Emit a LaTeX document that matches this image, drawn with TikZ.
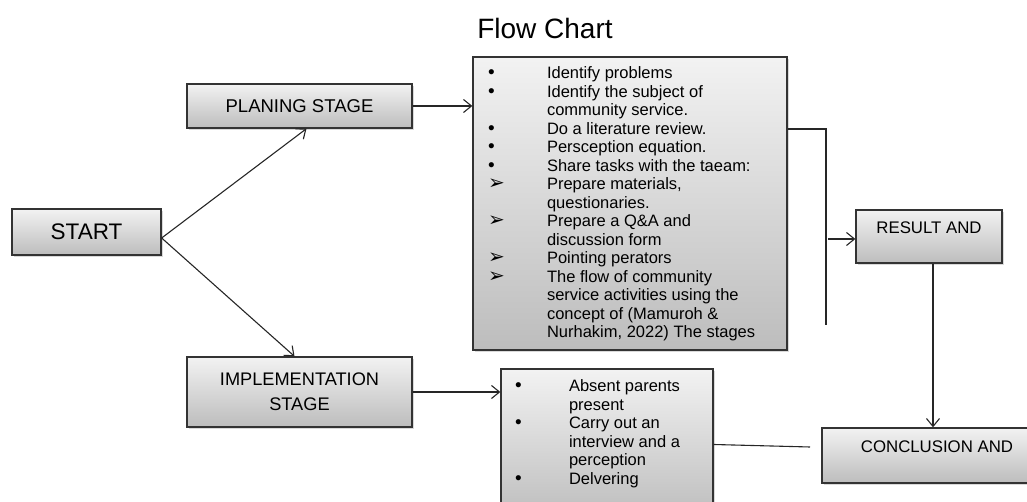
\documentclass[tikz,border=0pt]{standalone}
\usepackage{fontspec}
\setmainfont{Liberation Sans}
\newfontfamily\arrowfont{DejaVu Sans}
\usetikzlibrary{arrows.meta, positioning, shadows}
\tikzset{>={Straight Barb[length=8pt,width=13pt]}}

\newcommand{\listdot}{{\fontsize{19}{19}\selectfont\textbullet}}
\newcommand{\listarrow}{{\arrowfont\fontsize{20}{20}\selectfont ➢}}

\begin{document}
\begin{tikzpicture}[x=1pt, y=1pt,
	stagebox/.style={draw=black!80, line width=1.3pt, top color=black!5, bottom color=black!26,
		drop shadow={shadow xshift=1.5pt, shadow yshift=-2pt, opacity=0.3},
		inner sep=0pt, align=center},
	link/.style={draw=black!85, line width=1.1pt}]

	\useasboundingbox (0,0) rectangle (1027,502);

	\node[anchor=base, font=\fontsize{28}{32}\selectfont] (title) at (545,463) {Flow Chart};

	\node[stagebox, minimum width=149pt, minimum height=46pt, font=\fontsize{22.5}{26}\selectfont] (start) at (86.5,270) {START};
	\node[stagebox, minimum width=225pt, minimum height=44pt, font=\fontsize{18.5}{22}\selectfont] (plan) at (299.5,396) {PLANING STAGE};
	\node[stagebox, minimum width=225pt, minimum height=70pt, font=\fontsize{18.2}{25}\selectfont] (impl) at (299.5,110) {IMPLEMENTATION\\STAGE};

	\node[stagebox] (tasks) at (630,298.5) {\parbox[c][293pt][t]{314pt}{\vspace*{9pt}\fontsize{16.5}{18.5}\selectfont
		\begin{tabular}{@{\hspace{15pt}}p{59pt}@{}l@{}}
			\listdot & Identify problems\\
			\listdot & Identify the subject of\\
			 & community service.\\
			\listdot & Do a literature review.\\
			\listdot & Persception equation.\\
			\listdot & Share tasks with the taeam:\\
			\listarrow & Prepare materials,\\
			 & questionaries.\\
			\listarrow & Prepare a Q\&A and\\
			 & discussion form\\
			\listarrow & Pointing perators\\
			\listarrow & The flow of community\\
			 & service activities using the\\
			 & concept of (Mamuroh \&\\
			 & Nurhakim, 2022) The stages\\
		\end{tabular}}};

	\node[stagebox] (absent) at (607,57.5) {\parbox[c][151pt][t]{212pt}{\vspace*{10pt}\fontsize{16.5}{18.5}\selectfont
		\begin{tabular}{@{\hspace{14pt}}p{54pt}@{}l@{}}
			\listdot & Absent parents\\
			 & present\\
			\listdot & Carry out an\\
			 & interview and a\\
			 & perception\\
			\listdot & Delvering\\
		\end{tabular}}};

	\node[stagebox, minimum width=146pt, minimum height=53pt, font=\fontsize{16.8}{19}\selectfont] (result) at (929,265.5) {RESULT AND\\[-7pt]\strut};
	\node[stagebox, minimum width=230pt, minimum height=55pt, font=\fontsize{16.8}{19}\selectfont] (concl) at (937,46.5) {CONCLUSION AND\\[-6pt]\strut};

	\coordinate (bend) at (826,373);
	\coordinate (drop) at (826,177);
	\coordinate (tap) at (828,263);
	\coordinate (gapend) at (810,55);

	\draw[link, ->] ([yshift=-6pt]start.east) -- ([xshift=7pt]plan.south);
	\draw[link, ->] ([yshift=-6pt]start.east) -- ([xshift=-5pt]impl.north);
	\draw[link, ->] (plan.east) -- (plan.east -| tasks.west);
	\draw[link, ->] (impl.east) -- (impl.east -| absent.west);
	\draw[link] (tasks.east |- bend) -- (bend) -- (drop);
	\draw[link, ->] (tap) -- (tap -| result.west);
	\draw[link, ->] ([xshift=4pt]result.south) -- ([xshift=4pt]result.south |- concl.north);
	\draw[link] (absent.east) -- (gapend);
\end{tikzpicture}
\end{document}
